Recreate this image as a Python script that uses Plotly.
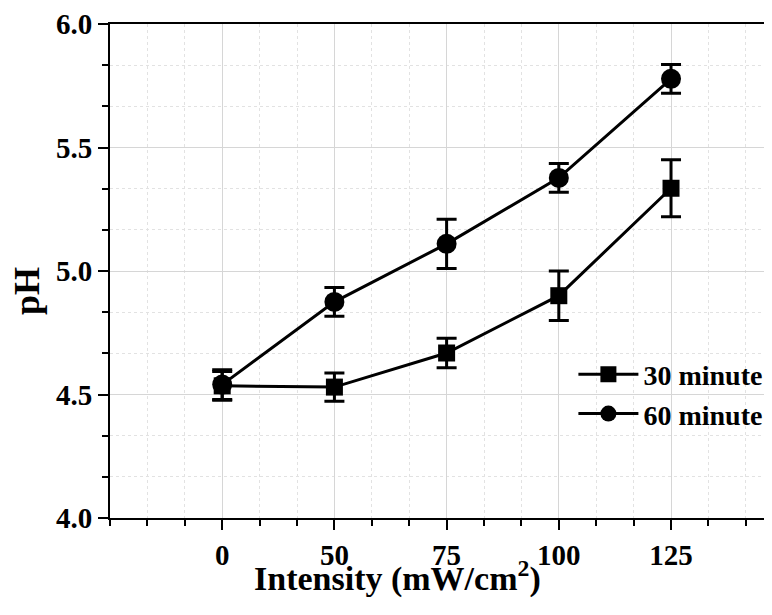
import plotly.graph_objects as go

# ---- data ----
intensity_labels = ["0", "50", "75", "100", "125"]
x_pos = [0, 1, 2, 3, 4]
ph_30 = [4.535, 4.530, 4.668, 4.900, 5.335]
err_30 = [0.058, 0.057, 0.060, 0.100, 0.115]
ph_60 = [4.540, 4.875, 5.110, 5.377, 5.778]
err_60 = [0.060, 0.058, 0.100, 0.058, 0.058]
y_ticks = [4.0, 4.5, 5.0, 5.5, 6.0]

FONT = "Liberation Serif, Times New Roman, serif"

fig = go.Figure()
fig.add_trace(go.Scatter(
    x=x_pos, y=ph_30, name="30 minute", mode="lines+markers",
    line=dict(color="black", width=3),
    marker=dict(symbol="square", size=17, color="black"),
    error_y=dict(type="data", array=err_30, visible=True, color="black",
                 thickness=3, width=10),
))
fig.add_trace(go.Scatter(
    x=x_pos, y=ph_60, name="60 minute", mode="lines+markers",
    line=dict(color="black", width=3),
    marker=dict(symbol="circle", size=20, color="black"),
    error_y=dict(type="data", array=err_60, visible=True, color="black",
                 thickness=3, width=10),
))

tick_font = dict(family=FONT, size=29, color="black", weight="bold")

fig.update_xaxes(
    range=[-1, 4.9],
    tickmode="array",
    tickvals=x_pos,
    ticktext=intensity_labels,
    ticks="outside", ticklen=10, tickwidth=2, tickcolor="black",
    showline=True, linecolor="black", linewidth=2, mirror=True,
    showgrid=True, gridcolor="#d6d6d6", gridwidth=1,
    zeroline=False,
    tickfont=tick_font,
    minor=dict(tickmode="linear", tick0=-1, dtick=1/3, ticks="outside",
               ticklen=6, tickwidth=2, tickcolor="black",
               showgrid=True, gridcolor="#e2e2e2", griddash="dot", gridwidth=1),
)
fig.update_yaxes(
    range=[4, 6],
    tickmode="array",
    tickvals=y_ticks,
    ticktext=[f"{v:.1f}" for v in y_ticks],
    ticks="outside", ticklen=10, tickwidth=2, tickcolor="black",
    showline=True, linecolor="black", linewidth=2, mirror=False,
    showgrid=True, gridcolor="#d6d6d6", gridwidth=1,
    zeroline=False,
    tickfont=tick_font,
    minor=dict(tickmode="linear", tick0=4, dtick=1/6, ticks="outside",
               ticklen=6, tickwidth=2, tickcolor="black",
               showgrid=True, gridcolor="#e2e2e2", griddash="dot", gridwidth=1),
)

fig.add_annotation(
    text="Intensity (mW/cm<sup>2</sup>)", xref="paper", yref="paper",
    x=0.435, y=-0.119, xanchor="center", yanchor="middle", showarrow=False,
    font=dict(family=FONT, size=34, color="black", weight="bold"),
)
fig.add_annotation(
    text="pH", xref="paper", yref="paper", textangle=-90,
    x=-0.125, y=0.46, xanchor="center", yanchor="middle", showarrow=False,
    font=dict(family=FONT, size=36, color="black", weight="bold"),
)

fig.update_layout(
    width=764, height=607,
    margin=dict(l=102, r=0, t=16, b=97, pad=0),
    paper_bgcolor="white", plot_bgcolor="white",
    showlegend=True,
    legend=dict(
        x=0.70, y=0.251, xanchor="left", yanchor="middle",
        bgcolor="rgba(0,0,0,0)", borderwidth=0,
        font=dict(family=FONT, size=28, color="black", weight="bold"),
        itemwidth=60, tracegroupgap=0,
    ),
)

fig.write_html("out.html")
